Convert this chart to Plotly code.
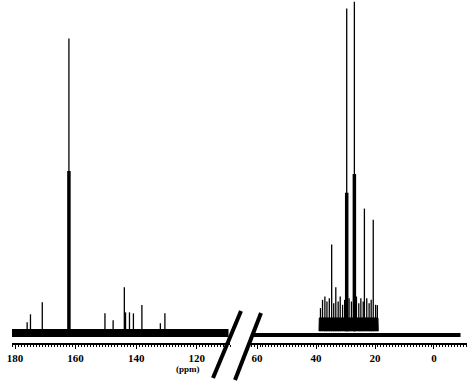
import plotly.graph_objects as go

# ---- data (ppm, relative intensity) ----
left_ppm    = [176.0, 174.9, 171.0, 162.2, 150.3, 147.6, 143.9, 143.5, 142.2, 140.9, 138.1, 132.0, 130.5]
left_height = [2.7,   5.1,   8.8,   88.8,  5.4,   3.3,   13.3,  5.7,   5.7,   5.4,   7.9,   2.4,   5.4]
left_core_ppm    = [162.2]
left_core_height = [48.6]

right_ppm    = [38.5, 37.8, 37.0, 36.3, 35.5, 34.7, 34.0, 33.3, 32.5, 31.8, 31.0, 30.3, 29.6,
                28.8, 28.0, 27.0, 26.3, 25.5, 24.8, 24.0, 23.6, 22.8, 22.0, 21.3, 20.6, 19.8, 19.2]
right_height = [7.0, 9.5, 10.5, 9.0, 10.0, 26.3, 8.5, 13.3, 9.0, 10.5, 8.0, 9.5, 97.9,
                10.0, 9.0, 100.0, 10.5, 8.5, 10.0, 9.0, 37.2, 10.0, 8.5, 9.5, 33.8, 8.0, 7.9]
right_core_ppm    = [29.6, 27.0]
right_core_height = [42.0, 47.7]

cluster_ppm    = [39.0, 38.9, 19.0, 18.9]
cluster_height = [0.0, 4.0, 4.0, 0.0]

left_base_ppm  = [181.0, 109.5]
left_base_lvl  = [-0.6, -0.6]
right_base_ppm = [62.0, -9.0]
right_base_lvl = [-1.2, -1.2]

left_ticks  = [180, 160, 140, 120]
right_ticks = [60, 40, 20, 0]


def sticks(ppm, h):
    xs, ys = [], []
    for p, v in zip(ppm, h):
        xs += [p, p, None]
        ys += [0, v, None]
    return xs, ys


fig = go.Figure()

for ppm, h, core_p, core_h, base_p, base_l, ax, bw in [
    (left_ppm, left_height, left_core_ppm, left_core_height, left_base_ppm, left_base_lvl, "x", 8),
    (right_ppm, right_height, right_core_ppm, right_core_height, right_base_ppm, right_base_lvl, "x2", 4),
]:
    xs, ys = sticks(ppm, h)
    fig.add_trace(go.Scatter(x=xs, y=ys, mode="lines", xaxis=ax, yaxis="y",
                             line=dict(color="black", width=1.3), hoverinfo="skip"))
    xs, ys = sticks(core_p, core_h)
    fig.add_trace(go.Scatter(x=xs, y=ys, mode="lines", xaxis=ax, yaxis="y",
                             line=dict(color="black", width=3.5), hoverinfo="skip"))
    fig.add_trace(go.Scatter(x=base_p, y=base_l, mode="lines", xaxis=ax, yaxis="y",
                             line=dict(color="black", width=bw), hoverinfo="skip"))

fig.add_trace(go.Scatter(x=cluster_ppm, y=cluster_height, mode="lines", xaxis="x2", yaxis="y",
                         fill="toself", fillcolor="black", line=dict(color="black", width=1),
                         hoverinfo="skip"))

axis_common = dict(
    showline=True, linecolor="black", linewidth=2, showgrid=False, zeroline=False,
    ticks="outside", ticklen=4, tickwidth=1, tickcolor="black",
    minor=dict(ticks="outside", ticklen=2, dtick=1, tickcolor="black", tickwidth=1),
    tickfont=dict(family="Liberation Serif", size=11, color="black", weight="bold"),
    anchor="y",
)

W, H = 469, 383
ml, mr, mt, mb = 12, 2, 0, 40
pw = W - ml - mr
ph = H - mt - mb


def px(xp):
    return (xp - ml) / pw


def py(yp):
    return (H - mb - yp) / ph


fig.update_layout(
    width=W, height=H,
    margin=dict(l=ml, r=mr, t=mt, b=mb),
    paper_bgcolor="white", plot_bgcolor="white",
    showlegend=False,
    xaxis=dict(domain=[0, px(230)], range=[181, 109], tickvals=left_ticks, **axis_common),
    xaxis2=dict(domain=[px(250), 1], range=[62.4, -11.2], tickvals=right_ticks, **axis_common),
    yaxis=dict(range=[-3.6, 100.5], visible=False),
    shapes=[
        dict(type="line", xref="paper", yref="paper", x0=px(213), y0=py(378), x1=px(241), y1=py(311),
             line=dict(color="black", width=4)),
        dict(type="line", xref="paper", yref="paper", x0=px(235), y0=py(380), x1=px(261), y1=py(313),
             line=dict(color="black", width=4)),
    ],
    annotations=[
        dict(text="(ppm)", xref="paper", yref="paper", x=px(188), y=py(376), showarrow=False,
             font=dict(family="Liberation Serif", size=9, color="black", weight="bold")),
    ],
)

fig.write_html("out.html", config={"displayModeBar": False},
               post_script="document.body.style.margin='0';")
